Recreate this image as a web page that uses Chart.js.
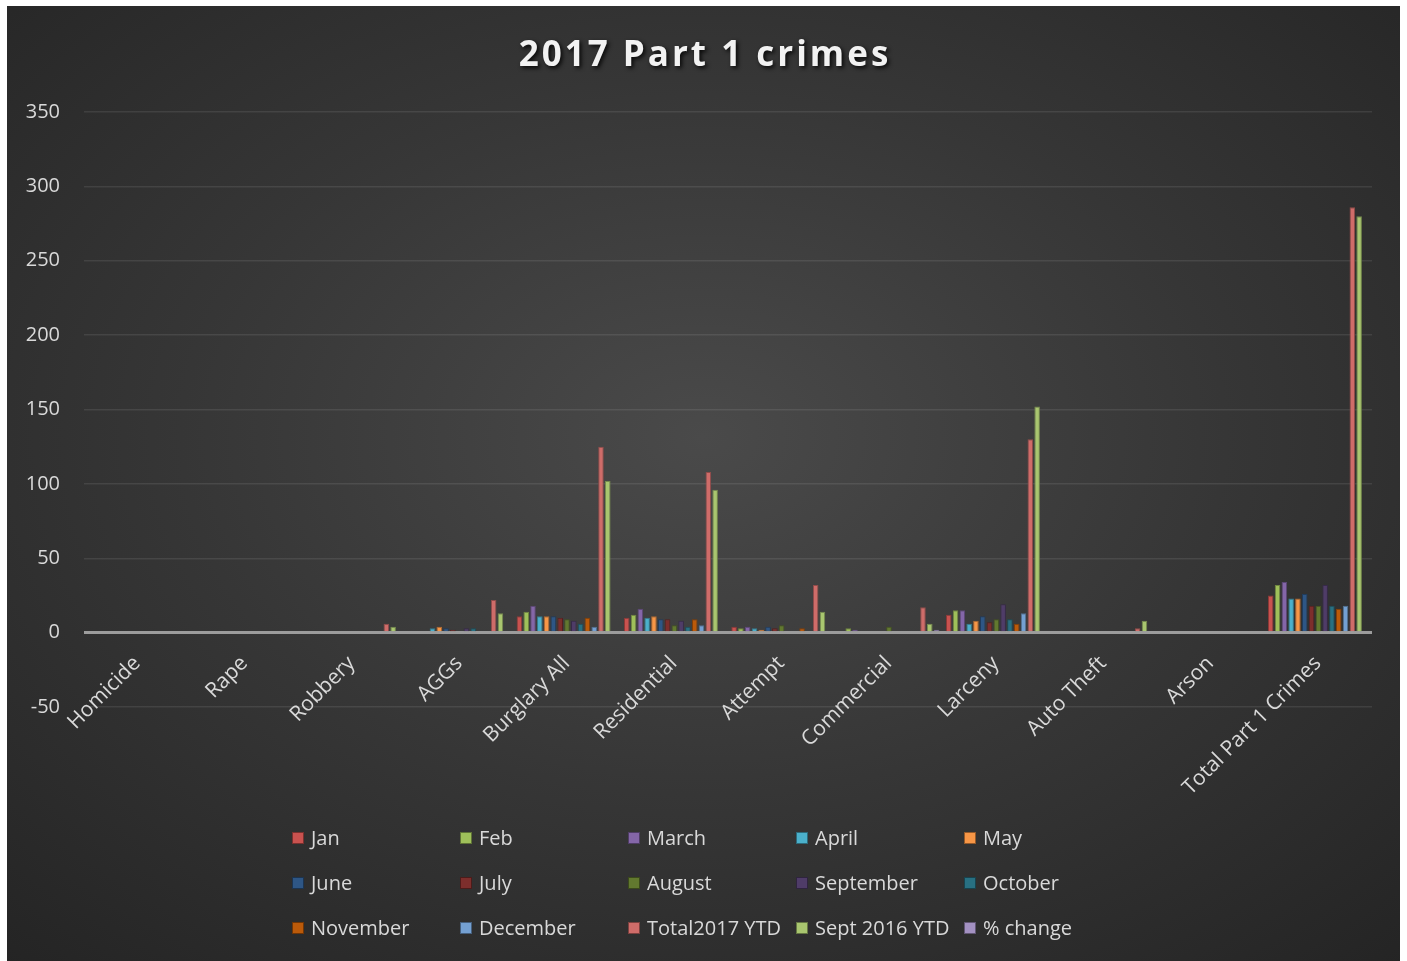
<!DOCTYPE html>
<html>
<head>
<meta charset="utf-8">
<title>2017 Part 1 crimes</title>
<script src="https://cdn.jsdelivr.net/npm/chart.js@4.4.0/dist/chart.umd.min.js"></script>
<style>
html, body { margin: 0; padding: 0; background: #fff; }
#box {
	position: absolute; left: 7px; top: 6px; width: 1393px; height: 956px;
	background: radial-gradient(ellipse 75% 75% at 50% 45%, #4a4a4a 0%, #363636 50%, #242424 100%);
}
canvas { display: block; }
</style>
</head>
<body>
<div id="box"><canvas id="crimeChart"></canvas></div>
<script>
// Chart data
const chartTitle = "2017 Part 1 crimes";
const categories = ["Homicide", "Rape", "Robbery", "AGGs", "Burglary All", "Residential",
	"Attempt", "Commercial", "Larceny", "Auto Theft", "Arson", "Total Part 1 Crimes"];

const jan       = [0, 0, 0, 1, 11, 10, 4, 1, 12, 1, 0, 25];
const feb       = [0, 0, 0, 1, 14, 12, 3, 3, 15, 1, 0, 32];
const march     = [0, 0, 0, 1, 18, 16, 4, 2, 15, 0, 0, 34];
const april     = [0, 0, 1, 3, 11, 10, 3, 1, 6, 0, 0, 23];
const may       = [0, 0, 0, 4, 11, 11, 2, 0, 8, 0, 0, 23];
const june      = [0, 0, 1, 3, 11, 9, 4, 1, 11, 0, 0, 26];
const july      = [0, 0, 0, 2, 10, 9, 3, 1, 7, 0, 0, 18];
const august    = [0, 0, 0, 1, 9, 5, 5, 4, 9, 0, 0, 18];
const september = [0, 0, 1, 3, 8, 8, 1, 0, 19, 1, 0, 32];
const october   = [0, 0, 1, 3, 6, 4, 0, 1, 9, 0, 0, 18];
const november  = [0, 0, 0, 0, 10, 9, 3, 1, 6, 0, 0, 16];
const december  = [0, 0, 1, 0, 4, 5, 0, 0, 13, 0, 0, 18];
const total2017 = [0, 0, 6, 22, 125, 108, 32, 17, 130, 3, 0, 286];
const sept2016  = [0, 0, 4, 13, 102, 96, 14, 6, 152, 8, 0, 280];
const pctChange = [0, 0, 0, 0, 0, 0, 1, 2, 0, 0, 0, 0];

const seriesNames = ["Jan", "Feb", "March", "April", "May", "June", "July", "August",
	"September", "October", "November", "December", "Total2017 YTD", "Sept 2016 YTD", "% change"];
const seriesData = [jan, feb, march, april, may, june, july, august,
	september, october, november, december, total2017, sept2016, pctChange];

const yTicks = [-50, 0, 50, 100, 150, 200, 250, 300, 350];

// Colours
const barColors = ["#c9524f", "#9fc05a", "#8466a8", "#4bb0cb", "#f79646", "#2e5685",
	"#7d2e2c", "#62792f", "#4f3c68", "#287082", "#bb5a0a", "#74a0d2",
	"#cf6c69", "#a9c66f", "#a391c2"];
const textColor = "#d9d9d9";
const fontName = '"Open Sans", sans-serif';

// Some Support Functions
function shade(hex, f){
	var n = parseInt(hex.slice(1), 16);
	var r = Math.round(((n >> 16) & 255) * f);
	var g = Math.round(((n >> 8) & 255) * f);
	var b = Math.round((n & 255) * f);
	return "rgb(" + r + "," + g + "," + b + ")";
}

// Title with letter spacing and shadow
const titlePlugin = {
	id: "titlePlugin",
	afterDraw(chart){
		const ctx = chart.ctx;
		ctx.save();
		ctx.font = "bold 35px " + fontName;
		ctx.letterSpacing = "3px";
		ctx.textAlign = "center";
		ctx.textBaseline = "middle";
		ctx.shadowColor = "rgba(0,0,0,0.85)";
		ctx.shadowOffsetX = 2;
		ctx.shadowOffsetY = 2;
		ctx.shadowBlur = 4;
		ctx.fillStyle = "#f2f2f2";
		ctx.fillText(chartTitle, chart.width / 2 + 1.5, 50);
		ctx.restore();
	}
};

// Category labels hanging from the zero line
const catLabels = {
	id: "catLabels",
	afterDraw(chart){
		const ctx = chart.ctx;
		const xs = chart.scales.x, ys = chart.scales.y;
		const y0 = ys.getPixelForValue(0);
		ctx.save();
		ctx.font = "21px " + fontName;
		ctx.fillStyle = textColor;
		ctx.textAlign = "right";
		ctx.textBaseline = "top";
		categories.forEach((c, i) => {
			const px = xs.getPixelForValue(i);
			ctx.save();
			ctx.translate(px - 8, y0 + 20);
			ctx.rotate(-Math.PI / 4);
			ctx.fillText(c, 0, 0);
			ctx.restore();
		});
		ctx.restore();
	}
};

// Legend in a 5 column grid
const gridLegend = {
	id: "gridLegend",
	afterDraw(chart){
		const ctx = chart.ctx;
		ctx.save();
		ctx.font = "20px " + fontName;
		ctx.textAlign = "left";
		ctx.textBaseline = "middle";
		seriesNames.forEach((name, i) => {
			const lx = 285 + (i % 5) * 168;
			const ly = 832 + Math.floor(i / 5) * 45;
			ctx.fillStyle = barColors[i];
			ctx.fillRect(lx, ly - 6, 12, 12);
			ctx.strokeStyle = shade(barColors[i], 0.6);
			ctx.lineWidth = 1;
			ctx.strokeRect(lx + 0.5, ly - 5.5, 11, 11);
			ctx.fillStyle = textColor;
			ctx.fillText(name, lx + 19, ly + 1);
		});
		ctx.restore();
	}
};

const datasets = seriesData.map((d, i) => ({
	label: seriesNames[i],
	data: d,
	backgroundColor: barColors[i],
	borderColor: shade(barColors[i], 0.7),
	borderWidth: 1,
	categoryPercentage: 0.95,
	barPercentage: 0.82
}));

new Chart(document.getElementById("crimeChart"), {
	type: "bar",
	data: { labels: categories, datasets: datasets },
	plugins: [titlePlugin, catLabels, gridLegend],
	options: {
		responsive: true,
		maintainAspectRatio: false,
		animation: false,
		layout: { padding: { top: 106, right: 28, left: 0, bottom: 0 } },
		plugins: { legend: { display: false }, title: { display: false }, tooltip: { enabled: false } },
		scales: {
			x: {
				ticks: { display: false },
				grid: { display: false },
				border: { display: false },
				afterFit(scale){ scale.height = 255; }
			},
			y: {
				min: -50, max: 350,
				afterBuildTicks(scale){ scale.ticks = yTicks.map(v => ({ value: v })); },
				ticks: { color: textColor, font: { family: fontName, size: 20 }, padding: 24 },
				grid: {
					drawTicks: false,
					color: c => c.tick && c.tick.value === 0 ? "#9c9c9c" : "rgba(255,255,255,0.09)",
					lineWidth: c => c.tick && c.tick.value === 0 ? 3 : 1.5
				},
				border: { display: false },
				afterFit(scale){ scale.width = 77; }
			}
		}
	}
});
</script>
</body>
</html>
